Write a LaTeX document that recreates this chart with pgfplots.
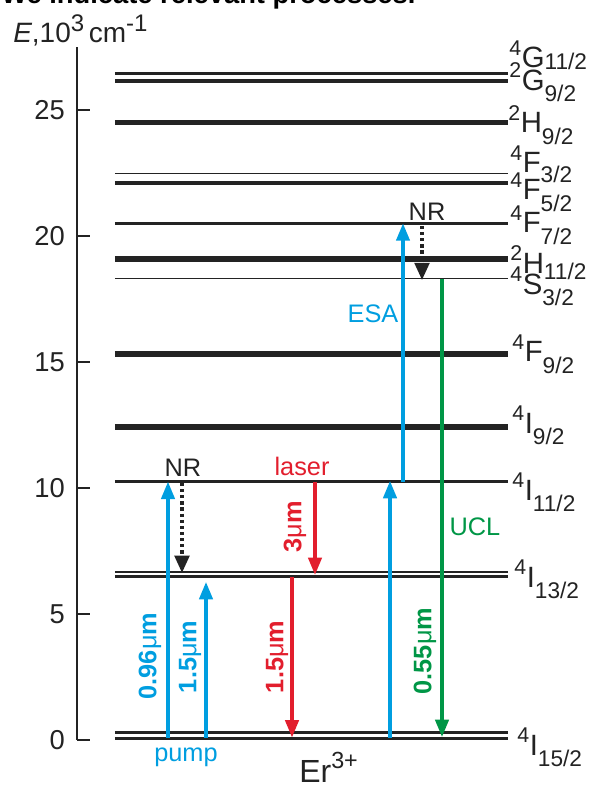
\documentclass[border=0pt]{standalone}
\usepackage{pgfplots}
\pgfplotsset{compat=1.18}
\usepackage{fontspec}
\setmainfont{Liberation Sans}
\usetikzlibrary{arrows.meta}
\definecolor{cblue}{RGB}{0,158,224}
\definecolor{cred}{RGB}{226,30,45}
\definecolor{cgreen}{RGB}{0,150,70}
\definecolor{lvl}{RGB}{35,35,35}
\newcommand{\fs}[1]{\fontsize{#1}{#1}\selectfont}
\newcommand{\lev}[4][-8.5pt]{\raisebox{9.5pt}{\fs{16}#2}\kern0.5pt{\fs{22}#3}\raisebox{#1}{\fs{17}#4}}
\newcommand{\wl}[1]{{\fs{19}\bfseries #1{\mdseries μ}m}}
\begin{document}
\begin{tikzpicture}
\useasboundingbox (-57.75pt,-35.25pt) rectangle (387.75pt,555pt);
\begin{axis}[
  at={(0,0)}, anchor=south west,
  scale only axis, width=324.75pt, height=519.75pt,
  xmin=77, xmax=510, ymin=0, ymax=27.5,
  axis x line=none, axis y line=left,
  y axis line style={-, line width=1.4pt, lvl},
  clip=false,
  ytick={0,5,10,15,20,25}, minor ytick={},
  tick align=inside, major tick length=10pt,
  ytick style={line width=1.4pt, lvl},
  yticklabel style={font=\fs{20.5}, text=lvl, inner sep=0pt, xshift=-9pt},
  /pgf/number format/assume math mode=true,
  every axis plot/.append style={line cap=butt},
]
% energy levels
\addplot[lvl, line width=2.2pt] coordinates {(115,0.07) (508,0.07)};
\addplot[lvl, line width=1.8pt] coordinates {(115,0.30) (508,0.30)};
\addplot[lvl, line width=2.0pt] coordinates {(115,6.50) (508,6.50)};
\addplot[lvl, line width=1.6pt] coordinates {(115,6.68) (508,6.68)};
\addplot[lvl, line width=2.6pt] coordinates {(115,10.25) (508,10.25)};
\addplot[lvl, line width=4.5pt] coordinates {(115,12.42) (508,12.42)};
\addplot[lvl, line width=4.5pt] coordinates {(115,15.30) (508,15.30)};
\addplot[lvl, line width=1.0pt] coordinates {(115,18.30) (508,18.30)};
\addplot[lvl, line width=4.5pt] coordinates {(115,19.10) (508,19.10)};
\addplot[lvl, line width=2.8pt] coordinates {(115,20.50) (508,20.50)};
\addplot[lvl, line width=2.4pt] coordinates {(115,22.10) (508,22.10)};
\addplot[lvl, line width=1.2pt] coordinates {(115,22.48) (508,22.48)};
\addplot[lvl, line width=3.5pt] coordinates {(115,24.50) (508,24.50)};
\addplot[lvl, line width=3.0pt] coordinates {(115,26.15) (508,26.15)};
\addplot[lvl, line width=2.2pt] coordinates {(115,26.44) (508,26.44)};
% transitions
\addplot[cblue, line width=2.5pt, -{Triangle[length=13pt,width=10pt]}] coordinates {(168,0.07) (168,10.25)};
\addplot[cblue, line width=2.5pt, -{Triangle[length=13pt,width=10pt]}] coordinates {(206,0.07) (206,6.27)};
\addplot[lvl, line width=2.6pt, dash pattern=on 2.4pt off 2.2pt, -{Triangle[length=13pt,width=11pt]}] coordinates {(182,10.2) (182,6.63)};
\addplot[cred, line width=2.5pt, -{Triangle[length=13pt,width=10pt]}] coordinates {(315,10.25) (315,6.55)};
\addplot[cred, line width=2.5pt, -{Triangle[length=13pt,width=10pt]}] coordinates {(292,6.47) (292,0.10)};
\addplot[cblue, line width=2.5pt, -{Triangle[length=13pt,width=10pt]}] coordinates {(390,0.07) (390,10.28)};
\addplot[cblue, line width=2.5pt, -{Triangle[length=13pt,width=10pt]}] coordinates {(403,10.25) (403,20.5)};
\addplot[lvl, line width=2.6pt, dash pattern=on 2.4pt off 2.2pt, -{Triangle[length=13pt,width=11pt]}] coordinates {(422,20.4) (422,18.25)};
\addplot[cgreen, line width=2.5pt, -{Triangle[length=13pt,width=10pt]}] coordinates {(442,18.3) (442,0.12)};
% level labels
\node[anchor=base west, inner sep=0pt, text=lvl] at (axis cs:509,26.67) {\lev[-1.5pt]{4}{G}{11/2}};
\node[anchor=base west, inner sep=0pt, text=lvl] at (axis cs:509,25.79) {\lev{2}{G}{9/2}};
\node[anchor=base west, inner sep=0pt, text=lvl] at (axis cs:508,24.09) {\lev{2}{H}{9/2}};
\node[anchor=base west, inner sep=0pt, text=lvl] at (axis cs:510,22.50) {\lev[-7pt]{4}{F}{3/2}};
\node[anchor=base west, inner sep=0pt, text=lvl] at (axis cs:510,21.43) {\lev{4}{F}{5/2}};
\node[anchor=base west, inner sep=0pt, text=lvl] at (axis cs:510,20.12) {\lev{4}{F}{7/2}};
\node[anchor=base west, inner sep=0pt, text=lvl] at (axis cs:510,18.53) {\lev[-5pt]{2}{H}{11/2}};
\node[anchor=base west, inner sep=0pt, text=lvl] at (axis cs:510,17.68) {\lev{4}{S}{3/2}};
\node[anchor=base west, inner sep=0pt, text=lvl] at (axis cs:512,15.00) {\lev{4}{F}{9/2}};
\node[anchor=base west, inner sep=0pt, text=lvl] at (axis cs:512,12.18) {\lev{4}{I}{9/2}};
\node[anchor=base west, inner sep=0pt, text=lvl] at (axis cs:512,9.52) {\lev{4}{I}{11/2}};
\node[anchor=base west, inner sep=0pt, text=lvl] at (axis cs:514,6.07) {\lev{4}{I}{13/2}};
\node[anchor=base west, inner sep=0pt, text=lvl] at (axis cs:517,-0.60) {\lev{4}{I}{15/2}};
% process labels
\node[anchor=base, inner sep=0pt, text=lvl] at (axis cs:183,10.44) {\fs{19}NR};
\node[anchor=base, inner sep=0pt, text=lvl] at (axis cs:427,20.63) {\fs{19}NR};
\node[anchor=base, inner sep=0pt, text=cred] at (axis cs:302,10.50) {\fs{19}laser};
\node[anchor=base, inner sep=0pt, text=cblue] at (axis cs:373,16.55) {\fs{19}ESA};
\node[anchor=base, inner sep=0pt, text=cgreen] at (axis cs:475,8.13) {\fs{19}UCL};
\node[anchor=base, inner sep=0pt, text=cblue] at (axis cs:186,-0.87) {\fs{19}pump};
\node[anchor=base west, inner sep=0pt, text=lvl] at (axis cs:299,-1.67) {\fs{24}Er\raisebox{10.5pt}{\fs{17.5}3+}};
\node[rotate=90, inner sep=0pt, text=cblue] at (axis cs:150,3.33) {\wl{0.96}};
\node[rotate=90, inner sep=0pt, text=cblue] at (axis cs:190,3.30) {\wl{1.5}};
\node[rotate=90, inner sep=0pt, text=cred] at (axis cs:295,8.45) {\wl{3}};
\node[rotate=90, inner sep=0pt, text=cred] at (axis cs:277,3.30) {\wl{1.5}};
\node[rotate=90, inner sep=0pt, text=cgreen] at (axis cs:425,3.53) {\wl{0.55}};
% axis title
\node[anchor=base west, inner sep=0pt, text=lvl] at (axis cs:13,27.66) {\fs{21}\textit{E},10\raisebox{8.5pt}{\fs{18}3}\,cm\raisebox{8.5pt}{\fs{18}-1}};
% cropped caption at the top
\node[anchor=base west, inner sep=0pt, text=black] at (axis cs:1,29.22) {\fs{20.5}\bfseries We indicate relevant processes.};
\end{axis}
\end{tikzpicture}
\end{document}
